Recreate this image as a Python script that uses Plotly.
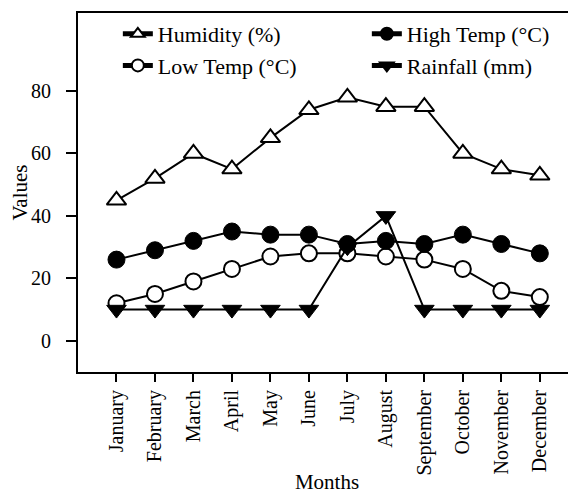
import plotly.graph_objects as go

months = ["January", "February", "March", "April", "May", "June", "July",
          "August", "September", "October", "November", "December"]
humidity = [45, 52, 60, 55, 65, 74, 78, 75, 75, 60, 55, 53]
high_temp = [26, 29, 32, 35, 34, 34, 31, 32, 31, 34, 31, 28]
low_temp = [12, 15, 19, 23, 27, 28, 28, 27, 26, 23, 16, 14]
rainfall = [10, 10, 10, 10, 10, 10, 30, 40, 10, 10, 10, 10]

FONT = "Liberation Serif"
line = dict(color="black", width=2)

fig = go.Figure()
fig.add_trace(go.Scatter(x=months, y=humidity, name="Humidity (%)", mode="lines+markers",
                         line=line, legend="legend", legendrank=1,
                         marker=dict(symbol="triangle-up", size=17, color="white",
                                     line=dict(color="black", width=2))))
fig.add_trace(go.Scatter(x=months, y=low_temp, name="Low Temp (°C)", mode="lines+markers",
                         line=line, legend="legend", legendrank=2,
                         marker=dict(symbol="circle", size=16, color="white",
                                     line=dict(color="black", width=2))))
fig.add_trace(go.Scatter(x=months, y=rainfall, name="Rainfall (mm)", mode="lines+markers",
                         line=line, legend="legend2", legendrank=2,
                         marker=dict(symbol="triangle-down", size=17, color="black",
                                     line=dict(color="black", width=1))))
fig.add_trace(go.Scatter(x=months, y=high_temp, name="High Temp (°C)", mode="lines+markers",
                         line=line, legend="legend2", legendrank=1,
                         marker=dict(symbol="circle", size=17, color="black",
                                     line=dict(color="black", width=1))))

legend_common = dict(font=dict(family=FONT, size=22, color="black"),
                     bgcolor="rgba(0,0,0,0)", borderwidth=0,
                     xanchor="left", yanchor="top", tracegroupgap=0,
                     itemsizing="constant")
fig.update_layout(
    width=568, height=486,
    margin=dict(l=70, r=0, t=5, b=122),
    paper_bgcolor="white", plot_bgcolor="white",
    font=dict(family=FONT, size=20, color="black"),
    legend=dict(x=0.08, y=1.0, **legend_common),
    legend2=dict(x=0.58, y=1.0, **legend_common),
    xaxis=dict(type="category", range=[-1, 11.94], showline=True, linecolor="black",
               linewidth=2, mirror=True, ticks="outside", ticklen=8, tickwidth=2,
               tickcolor="black", tickangle=-90, showgrid=False, zeroline=False,
               automargin=False,
               tickfont=dict(family=FONT, size=20),
               title=dict(text="Months", font=dict(family=FONT, size=21), standoff=2)),
    yaxis=dict(range=[-10, 105], showline=True, linecolor="black", linewidth=2,
               ticks="outside", ticklen=10, tickwidth=2, tickcolor="black",
               tickvals=[0, 20, 40, 60, 80], showgrid=False, zeroline=False,
               automargin=False, ticklabelstandoff=11,
               tickfont=dict(family=FONT, size=20),
               title=dict(text="Values", font=dict(family=FONT, size=21), standoff=3)),
)
fig.write_html("out.html")
